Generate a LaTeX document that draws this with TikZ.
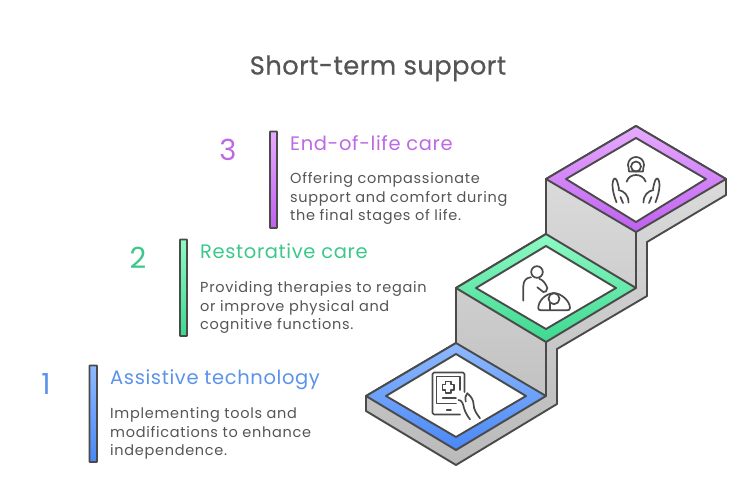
\documentclass[tikz,border=0pt]{standalone}
\usepackage{fontspec}
\usepackage{tikz}
\setmainfont{Poppins}
\newfontfamily\titlefont[FakeBold=0.6,LetterSpace=1.5]{Poppins}
\newfontfamily\bodyfont[LetterSpace=4.8]{Poppins}
\newfontfamily\headfont[LetterSpace=3.2]{Poppins}
\definecolor{linegray}{HTML}{4A4A4A}
\definecolor{textgray}{HTML}{555555}
\definecolor{blueink}{HTML}{5B93EA}
\definecolor{greenink}{HTML}{3CC88A}
\definecolor{purpleink}{HTML}{BE68E4}
\definecolor{bluetop}{HTML}{8FB9FF}
\definecolor{bluebot}{HTML}{4A88F5}
\definecolor{greentop}{HTML}{8EFAC4}
\definecolor{greenbot}{HTML}{3DD890}
\definecolor{purpletop}{HTML}{E6ABFF}
\definecolor{purplebot}{HTML}{BF5FF0}
\tikzset{
    outline/.style={draw=linegray, line width=1.9pt, line join=round},
    iconline/.style={draw=linegray, line width=1.7pt, line cap=round, line join=round},
    titletext/.style={anchor=base, font=\titlefont\fontsize{25.8}{28}\selectfont, text=textgray},
    numtext/.style={anchor=base, font=\fontsize{29}{32}\selectfont},
    headtext/.style={anchor=base west, inner sep=0pt, font=\headfont\fontsize{19.5}{22}\selectfont},
    bodytext/.style={anchor=north west, align=left, text=textgray, inner sep=0pt, font=\bodyfont\fontsize{14.5}{18.3}\selectfont},
    stepbar/.style={outline, rounded corners=0.5pt},
}
\begin{document}
\begin{tikzpicture}[x=1pt, y=-1pt]
    \useasboundingbox (0,0) rectangle (756,490);
    \node[titletext] (title) at (378,74.5) {Short-term support};
    % text columns
    \draw[stepbar, top color=purpletop, bottom color=purplebot] (270,131.5) rectangle (277,228);
    \node[numtext, text=purpleink] (num3) at (228,160) {3};
    \node[headtext, text=purpleink] (head3) at (290,150) {End-of-life care};
    \node[bodytext] (body3) at (290,172.5) {Offering compassionate\\support and comfort during\\the final stages of life.};
    \draw[stepbar, top color=greentop, bottom color=greenbot] (180,239.5) rectangle (187,336);
    \node[numtext, text=greenink] (num2) at (138,268) {2};
    \node[headtext, text=greenink] (head2) at (200,258) {Restorative care};
    \node[bodytext] (body2) at (200,281.5) {Providing therapies to regain\\or improve physical and\\cognitive functions.};
    \draw[stepbar, top color=bluetop, bottom color=bluebot] (89.5,365.5) rectangle (97,462);
    \node[numtext, text=blueink] (num1) at (46,394) {1};
    \node[headtext, text=blueink] (head1) at (110,384) {Assistive technology};
    \node[bodytext] (body1) at (110,407.5) {Implementing tools and\\modifications to enhance\\independence.};
    % stairs
    \draw[outline, top color=black!12, bottom color=black!27] (366,396) -- (456,343) -- (456,288) -- (546,234) -- (546,179) -- (636,126) -- (726,179) -- (726,195) -- (647,242) -- (647,296) -- (557,349) -- (557,404) -- (456,465) -- (366,411) -- cycle;
    \draw[outline] (636,232) -- (636,288);
    \draw[outline] (546,342) -- (546,396);
    \draw[outline, top color=purpletop, bottom color=purplebot] (546,179) -- (636,126) -- (726,179) -- (636,232) -- cycle;
    \draw[outline, fill=white] (566,179) -- (636,138) -- (706,179) -- (636,222) -- cycle;
    \draw[outline, top color=greentop, bottom color=greenbot] (456,288) -- (546,234) -- (636,288) -- (546,342) -- cycle;
    \draw[outline, fill=white] (476,288) -- (546,246) -- (616,288) -- (546,329) -- cycle;
    \draw[outline, top color=bluetop, bottom color=bluebot] (366,396) -- (456,343) -- (546,396) -- (456,450) -- cycle;
    \draw[outline, fill=white] (386,396) -- (456,354) -- (526,396) -- (456,437) -- cycle;
    % tablet icon
    \draw[iconline] (464.5,392) -- (464.5,374) -- (463,372.5) -- (434,372.5) -- (432.5,374) -- (432.5,413) -- (434,414.5) -- (460,414.5);
    \draw[iconline] (460,390) -- (460,376.5) -- (436.5,376.5) -- (436.5,403.5) -- (456,403.5);
    \draw[iconline] (445.5,381.5) -- (451,381.5) -- (451,384.5) -- (454,384.5) -- (454,390) -- (451,390) -- (451,393) -- (445.5,393) -- (445.5,390) -- (442.5,390) -- (442.5,384.5) -- (445.5,384.5) -- cycle;
    \draw[iconline] (442.7,398.3) -- (456,398.3);
    \draw[iconline] (446.7,410) -- (451,410);
    \draw[iconline] (467.3,393.3) .. controls (472,397) and (473.5,401) .. (473.5,404) .. controls (473.5,410) and (477,414) .. (480,418.3);
    \draw[iconline] (467.3,393.3) .. controls (465,396) and (465,398) .. (465.7,401.5);
    \draw[iconline] (458.5,400) .. controls (462,400) and (463,404) .. (464,408) .. controls (465,412) and (468,417) .. (470,419.3);
    % carer icon
    \draw[iconline] (537,272) circle (5.8);
    \draw[iconline] (523.3,300.7) -- (523.3,286.3) .. controls (523.3,280) and (527,277.5) .. (531,277.3);
    \draw[iconline] (539.3,278.7) .. controls (543,280) and (546,284) .. (547.3,288) .. controls (547.5,291) and (545,292.5) .. (543.3,292) -- (537.3,287.3);
    \draw[iconline] (538.3,308) .. controls (538.3,301) and (545,294) .. (553.5,293) .. controls (561,293) and (570,301) .. (570,308) .. controls (570,309.5) and (569,310.3) .. (567,310.3) -- (541,310.3) .. controls (539,310.3) and (538.3,309.5) .. (538.3,308) -- cycle;
    \draw[iconline, fill=white] (554,298.7) circle (5.5);
    \draw[iconline] (550,303) -- (550,310);
    % hands icon
    \draw[iconline] (636,166.5) circle (5);
    \draw[iconline] (629,171.5) .. controls (629.5,169) and (628,167) .. (628,165) .. controls (628,160) and (632,157) .. (636,157) .. controls (640,157) and (644,160) .. (644,165) .. controls (644,167) and (642.5,169) .. (643,171.5) -- cycle;
    \draw[iconline] (626.7,181.7) .. controls (628,177) and (632,175) .. (636,175) .. controls (640,175) and (644,177) .. (645.7,181.7);
    \foreach \sd in {1,-1} {
      \begin{scope}[shift={(636,0)}, xscale=\sd]
        \draw[iconline] (-19.5,202.3) .. controls (-22,196) and (-23.5,190) .. (-23.5,185) .. controls (-23.5,181) and (-22,178) .. (-21,178.5) .. controls (-19,179) and (-18,184) .. (-17,189);
        \draw[iconline] (-17.5,190) .. controls (-12,191) and (-7.5,195) .. (-7.5,202.5);
        \draw[iconline] (-13,203) -- (-15.5,197);
      \end{scope}
    }
\end{tikzpicture}
\end{document}
